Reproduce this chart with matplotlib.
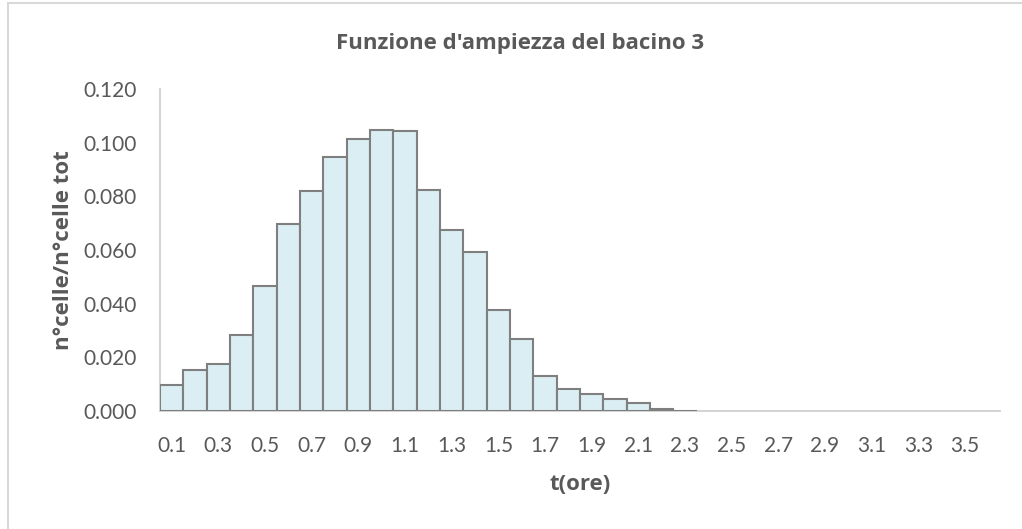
import matplotlib.pyplot as plt
from matplotlib.patches import Rectangle

# time classes (hours) and relative cell counts
t_ore = ["0.1", "0.2", "0.3", "0.4", "0.5", "0.6", "0.7", "0.8", "0.9", "1.0",
         "1.1", "1.2", "1.3", "1.4", "1.5", "1.6", "1.7", "1.8", "1.9", "2.0",
         "2.1", "2.2", "2.3", "2.4", "2.5", "2.6", "2.7", "2.8", "2.9", "3.0",
         "3.1", "3.2", "3.3", "3.4", "3.5", "3.6"]
frazione = [0.0097, 0.0153, 0.0175, 0.0283, 0.0466, 0.0697, 0.0820, 0.0945,
            0.1015, 0.1048, 0.1042, 0.0822, 0.0675, 0.0593, 0.0376, 0.0268,
            0.0129, 0.0083, 0.0065, 0.0046, 0.0028, 0.0008, 0.0]

txt = '#595959'
plt.rcParams['font.family'] = ['Lato', 'DejaVu Sans']
lab_font = ['Open Sans', 'DejaVu Sans']

fig = plt.figure(figsize=(10.22, 5.29), dpi=100)
ax = fig.add_axes([160/1022, 1 - 411/529, 840/1022, 322/529])

# outer chart frame
fig.patches.append(Rectangle((8/1022, -0.1), 1.2, 1.1 - 3/529, transform=fig.transFigure,
                             fill=False, edgecolor='#d9d9d9', linewidth=1.5))

x = list(range(len(frazione)))
ax.bar(x, frazione, width=1.0, color='#daeef3', edgecolor='#7f7f7f', linewidth=1.5, zorder=3)

ax.set_xlim(-0.5, len(t_ore) - 0.5)
ax.set_ylim(0, 0.12)
ax.set_yticks([0, 0.02, 0.04, 0.06, 0.08, 0.10, 0.12])
ax.set_yticklabels(['%.3f' % v for v in ax.get_yticks()])
ax.set_xticks(range(len(t_ore)))
ax.set_xticklabels([s if i % 2 == 0 else '' for i, s in enumerate(t_ore)])
ax.tick_params(axis='both', length=0, labelsize=15, colors=txt)
ax.tick_params(axis='x', pad=18)
ax.tick_params(axis='y', pad=16.5)

for s in ['top', 'right']:
    ax.spines[s].set_visible(False)
for s in ['left', 'bottom']:
    ax.spines[s].set_color('#d0d0d0')
    ax.spines[s].set_linewidth(1.3)

fig.text(520/1022, 1 - 43/529, "Funzione d'ampiezza del bacino 3", fontsize=16,
         fontweight='bold', color=txt, family=lab_font, ha='center', va='center')
ax.set_xlabel('t(ore)', fontsize=16, fontweight='bold', color=txt, family=lab_font, labelpad=13)
ax.set_ylabel('n°celle/n°celle tot', fontsize=16, fontweight='bold', color=txt,
              family=lab_font, labelpad=7)

fig.savefig('out.png', dpi=100)
